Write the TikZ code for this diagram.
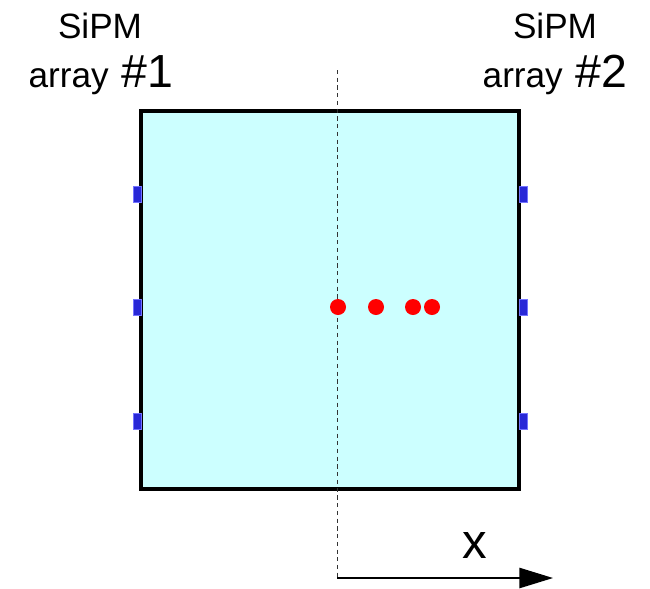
\documentclass[tikz,border=0pt]{standalone}
\usepackage{fontspec}
\setmainfont{Liberation Sans}
\usetikzlibrary{arrows.meta,positioning}
\definecolor{scint}{RGB}{204,255,255}
\definecolor{sipm}{RGB}{40,40,215}
\definecolor{hit}{RGB}{255,0,0}

\begin{document}
\begin{tikzpicture}[x=0.025cm,y=-0.025cm]
\useasboundingbox (0,0) rectangle (650,588);
\tikzset{
    sipmbox/.style={fill=sipm,draw=blue!55,line width=0.5pt},
    label/.style={anchor=base,inner sep=0pt,font=\fontsize{25}{30}\selectfont},
}
% scintillator
\draw[fill=scint,line width=2.2pt] (141,111) rectangle (519,489);
% SiPMs on both sides
\foreach \y in {194,307,421}
{
    \draw[sipmbox] (133,\y-8) rectangle (141,\y+8);
    \draw[sipmbox] (519,\y-8) rectangle (527,\y+8);
}
% axis
\coordinate (top) at (337,70);
\coordinate (origin) at (337,578);
\coordinate (xend) at (553,578);
\draw[black!80,line width=0.6pt,dash pattern=on 3pt off 2.5pt] (top) -- (origin);
\draw[line width=1.1pt,-{Triangle[length=24pt,width=14.5pt]}] (origin) -- (xend);
\node[label,font=\fontsize{35}{40}\selectfont] (xlab) at (475,558) {x};
% photon hits
\foreach \x in {338,376,413,432}
    \fill[hit] (\x,307) circle (8);
% labels
\node[label] (sipmA) at (100,38) {SiPM};
\node[label] (arrA) at (101,87) {array{\fontsize{33}{38}\selectfont\ \#1}};
\node[label] (sipmB) at (555,38) {SiPM};
\node[label] (arrB) at (555,87) {array{\fontsize{33}{38}\selectfont\ \#2}};
\end{tikzpicture}
\end{document}
